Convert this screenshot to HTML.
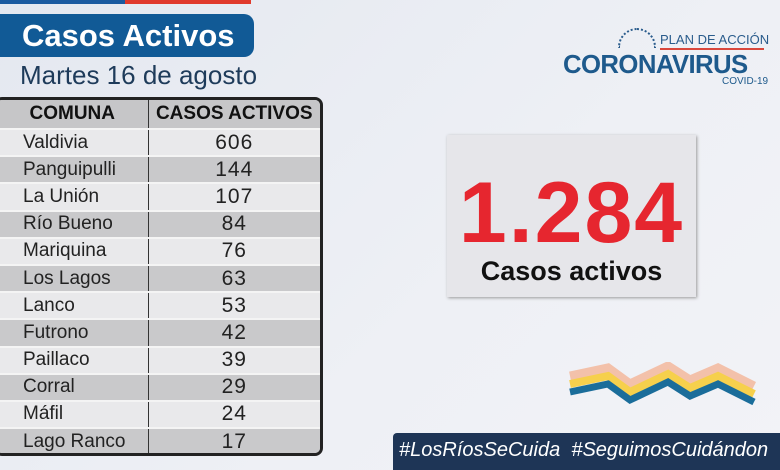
<!DOCTYPE html>
<html><head><meta charset="utf-8"><style>
*{margin:0;padding:0;box-sizing:border-box}
body{width:780px;height:470px;overflow:hidden;background:linear-gradient(135deg,#e4e8f0,#eef0f5 60%,#f2f3f7);font-family:"Liberation Sans",sans-serif;position:relative}
.a{position:absolute}
table{border-collapse:collapse;width:100%;height:100%}
td{font-size:19px;color:#222;height:27.2px;border-top:2px solid #f4f4f4;padding:0}
td:first-child{padding-left:26px;width:151px;border-right:1.5px solid #333}
td:last-child{text-align:center;font-size:21px;letter-spacing:1px}
tr:nth-child(even) td{background:#e9e9eb}
tr:nth-child(odd) td{background:#c9c9cb}
th{background:#c6c6c8;font-size:19px;font-weight:bold;height:29px;color:#111}
th:first-child{border-right:1.5px solid #333}
</style></head><body>
<div class="a" style="left:0;top:0;width:125px;height:4px;background:#1a5aa0"></div>
<div class="a" style="left:125px;top:0;width:126px;height:4px;background:#e03a2c"></div>
<div class="a" style="left:0;top:14px;width:254px;height:43px;background:#115a96;border-radius:0 10px 10px 0;color:#fff;font-weight:bold;font-size:31px;line-height:43px;padding-left:22px">Casos Activos</div>
<div class="a" style="left:20px;top:60px;font-size:26px;color:#1e3b5a">Martes 16 de agosto</div>
<div class="a" style="left:-6px;top:97px;width:329px;height:359px;border:3px solid #222;border-radius:8px;overflow:hidden;background:#eee">
<table>
<tr><th>COMUNA</th><th>CASOS ACTIVOS</th></tr>
<tr><td>Valdivia</td><td>606</td></tr>
<tr><td>Panguipulli</td><td>144</td></tr>
<tr><td>La Unión</td><td>107</td></tr>
<tr><td>Río Bueno</td><td>84</td></tr>
<tr><td>Mariquina</td><td>76</td></tr>
<tr><td>Los Lagos</td><td>63</td></tr>
<tr><td>Lanco</td><td>53</td></tr>
<tr><td>Futrono</td><td>42</td></tr>
<tr><td>Paillaco</td><td>39</td></tr>
<tr><td>Corral</td><td>29</td></tr>
<tr><td>Máfil</td><td>24</td></tr>
<tr><td>Lago Ranco</td><td>17</td></tr>
</table></div>
<div class="a" style="left:618px;top:28px;width:38px;height:20px;border:2px dotted #2a5c8c;border-bottom:none;border-radius:20px 20px 0 0"></div>
<div class="a" style="left:660px;top:32px;font-size:13px;color:#2a5c8c">PLAN DE ACCIÓN</div>
<div class="a" style="left:660px;top:48px;width:104px;height:2px;background:#d9473c"></div>
<div class="a" style="left:563px;top:49px;font-size:26px;font-weight:bold;color:#1e5a8c;letter-spacing:-0.6px;transform:scaleX(0.99);transform-origin:left">CORONAVIRUS</div>
<div class="a" style="left:722px;top:76px;font-size:10px;color:#1e5a8c">COVID-19</div>
<div class="a" style="left:447px;top:135px;width:249px;height:162px;background:#e6e6ea;box-shadow:1px 1px 3px #999;text-align:center">
<div style="font-size:86px;font-weight:bold;color:#e6262f;line-height:84px;margin-top:36px;letter-spacing:2px">1.284</div>
<div style="font-size:27px;font-weight:bold;color:#111;margin-top:1px">Casos activos</div></div>
<svg class="a" style="left:568px;top:362px" width="190" height="46">
<polyline points="2,14 40,6 62,22 100,4 122,18 150,6 186,24" fill="none" stroke="#f3c1aa" stroke-width="9"/>
<polyline points="2,22 40,14 62,30 100,12 122,26 150,14 186,32" fill="none" stroke="#f6d04c" stroke-width="8"/>
<polyline points="2,30 40,22 62,38 100,20 122,34 150,22 186,40" fill="none" stroke="#1a6d9a" stroke-width="7"/>
</svg>
<div class="a" style="left:393px;top:433px;width:387px;height:37px;background:#1e3556;border-radius:4px 0 0 0;color:#fff;font-size:20px;line-height:35px;padding-left:6px;white-space:nowrap;overflow:hidden;font-style:italic">#LosRíosSeCuida &nbsp;#SeguimosCuidándon</div>
</body></html>
